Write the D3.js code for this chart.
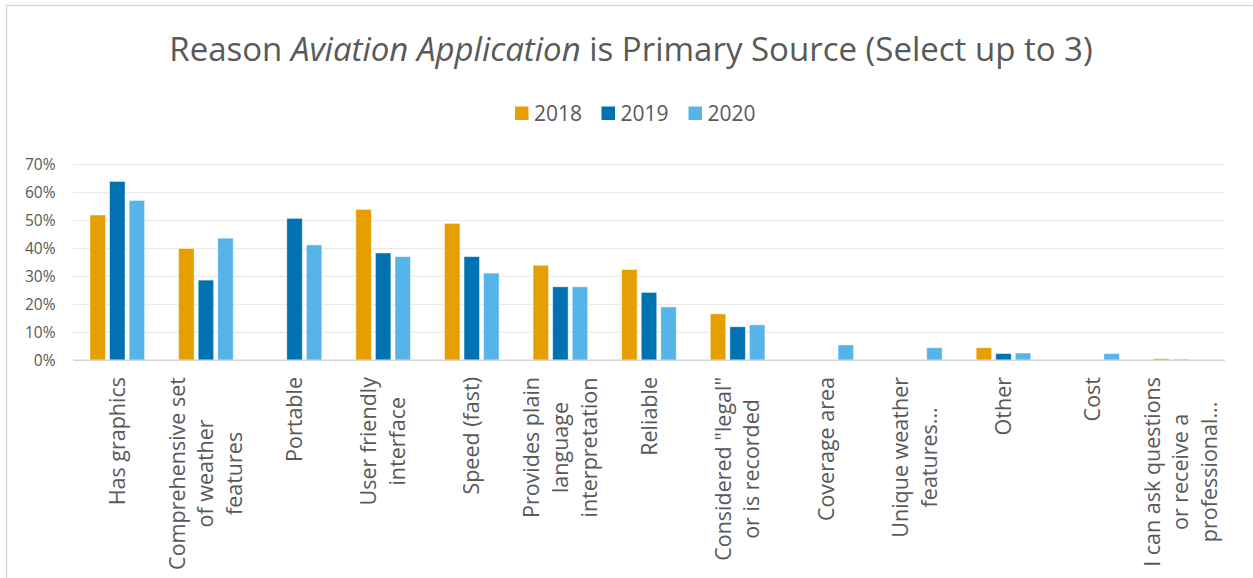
<!DOCTYPE html>
<html>
<head>
<meta charset="utf-8">
<script src="https://cdn.jsdelivr.net/npm/d3@7"></script>
<style>
  html, body { margin: 0; padding: 0; background: #fff; }
  svg { display: block; font-family: "Open Sans", sans-serif; }
</style>
</head>
<body>
<svg id="chart" width="1253" height="578"></svg>
<script>
// ---- Data ----
const categories = [
  "Has graphics",
  "Comprehensive set\nof weather\nfeatures",
  "Portable",
  "User friendly\ninterface",
  "Speed (fast)",
  "Provides plain\nlanguage\ninterpretation",
  "Reliable",
  "Considered \"legal\"\nor is recorded",
  "Coverage area",
  "Unique weather\nfeatures...",
  "Other",
  "Cost",
  "I can ask questions\nor receive a\nprofessional..."
];
const years = ["2018", "2019", "2020"];
const values2018 = [52, 40, null, 54, 49, 34, 32.5, 16.6, null, null, 4.5, null, 0.6];
const values2019 = [64, 28.7, 50.8, 38.4, 37.1, 26.3, 24.3, 12, null, null, 2.4, null, 0.3];
const values2020 = [57.2, 43.7, 41.3, 37.1, 31.2, 26.3, 19.1, 12.7, 5.5, 4.5, 2.6, 2.4, null];
const yTicks = [0, 10, 20, 30, 40, 50, 60, 70];
const colors = ["#E69F00", "#0072B2", "#56B4E9"];

const series = [values2018, values2019, values2020];

// ---- Layout ----
const svg = d3.select("#chart");
const plotLeft = 73, plotRight = 1225, plotTop = 164.7, plotBottom = 360.3;

// frame
svg.append("rect")
  .attr("x", 6.5).attr("y", 5.5)
  .attr("width", 1300).attr("height", 700)
  .attr("fill", "none").attr("stroke", "#d9d9d9").attr("stroke-width", 1.5);

const x0 = d3.scaleBand().domain(categories).range([plotLeft, plotRight])
  .paddingInner(0.384).paddingOuter(0.192);
const x1 = d3.scaleBand().domain(years).range([0, x0.bandwidth()]).paddingInner(0.21);
const y = d3.scaleLinear().domain([0, 70]).range([plotBottom, plotTop]);
const color = d3.scaleOrdinal().domain(years).range(colors);

// gridlines
svg.append("g").selectAll("line")
  .data(yTicks.filter(d => d > 0))
  .join("line")
  .attr("x1", plotLeft).attr("x2", plotRight)
  .attr("y1", d => y(d)).attr("y2", d => y(d))
  .attr("stroke", "#eaeaea").attr("stroke-width", 1.3);

// y axis labels
const yAxis = d3.axisLeft(y).tickValues(yTicks).tickFormat(d => d + "%").tickSize(0).tickPadding(0);
const yg = svg.append("g").attr("transform", `translate(${55.5},0)`).call(yAxis);
yg.select(".domain").remove();
yg.selectAll("text")
  .attr("fill", "#595959")
  .style("font-family", "'Open Sans', sans-serif")
  .style("font-size", "15.5px");

// bars
const groups = svg.append("g").selectAll("g")
  .data(categories)
  .join("g")
  .attr("transform", d => `translate(${x0(d)},0)`);

groups.selectAll("rect")
  .data((d, i) => years.map((yr, k) => ({ yr, v: series[k][i] })).filter(e => e.v != null))
  .join("rect")
  .attr("x", d => x1(d.yr))
  .attr("width", x1.bandwidth())
  .attr("y", d => y(d.v))
  .attr("height", d => y(0) - y(d.v))
  .attr("fill", d => color(d.yr))
  .attr("stroke", "#ffffff")
  .attr("stroke-opacity", 0.55)
  .attr("stroke-width", 0.8);

// baseline
svg.append("line")
  .attr("x1", plotLeft).attr("x2", plotRight)
  .attr("y1", y(0)).attr("y2", y(0))
  .attr("stroke", "#d4d4d4").attr("stroke-width", 1.5);

// x labels
const lineGap = 28.6;
const labelTop = 377;
categories.forEach(cat => {
  const lines = cat.split("\n");
  const cx = x0(cat) + x0.bandwidth() / 2;
  const g = svg.append("g").attr("transform", `translate(${cx},${labelTop}) rotate(-90)`);
  const texts = lines.map((ln, i) => g.append("text")
    .text(ln)
    .attr("y", (i - (lines.length - 1) / 2) * lineGap)
    .attr("dy", "0.35em")
    .attr("text-anchor", "middle")
    .attr("fill", "#595959")
    .style("font-size", "21.5px"));
  const maxW = d3.max(texts, t => t.node().getComputedTextLength());
  texts.forEach(t => t.attr("x", -maxW / 2));
});

// title
const title = svg.append("text")
  .attr("x", 631).attr("y", 61)
  .attr("text-anchor", "middle")
  .attr("fill", "#595959")
  .style("font-size", "33px");
title.append("tspan").text("Reason ");
title.append("tspan").text("Aviation Application").style("font-style", "italic");
title.append("tspan").text(" is Primary Source (Select up to 3)");

// legend
const legendX = [515, 601.5, 688.5];
const leg = svg.append("g").selectAll("g")
  .data(years)
  .join("g")
  .attr("transform", (d, i) => `translate(${legendX[i]},0)`);
leg.append("rect")
  .attr("x", 0).attr("y", 106.5)
  .attr("width", 13.5).attr("height", 13.5)
  .attr("fill", d => color(d));
leg.append("text")
  .attr("x", 19).attr("y", 120.5)
  .attr("fill", "#595959")
  .style("font-size", "21px")
  .text(d => d);
</script>
</body>
</html>
